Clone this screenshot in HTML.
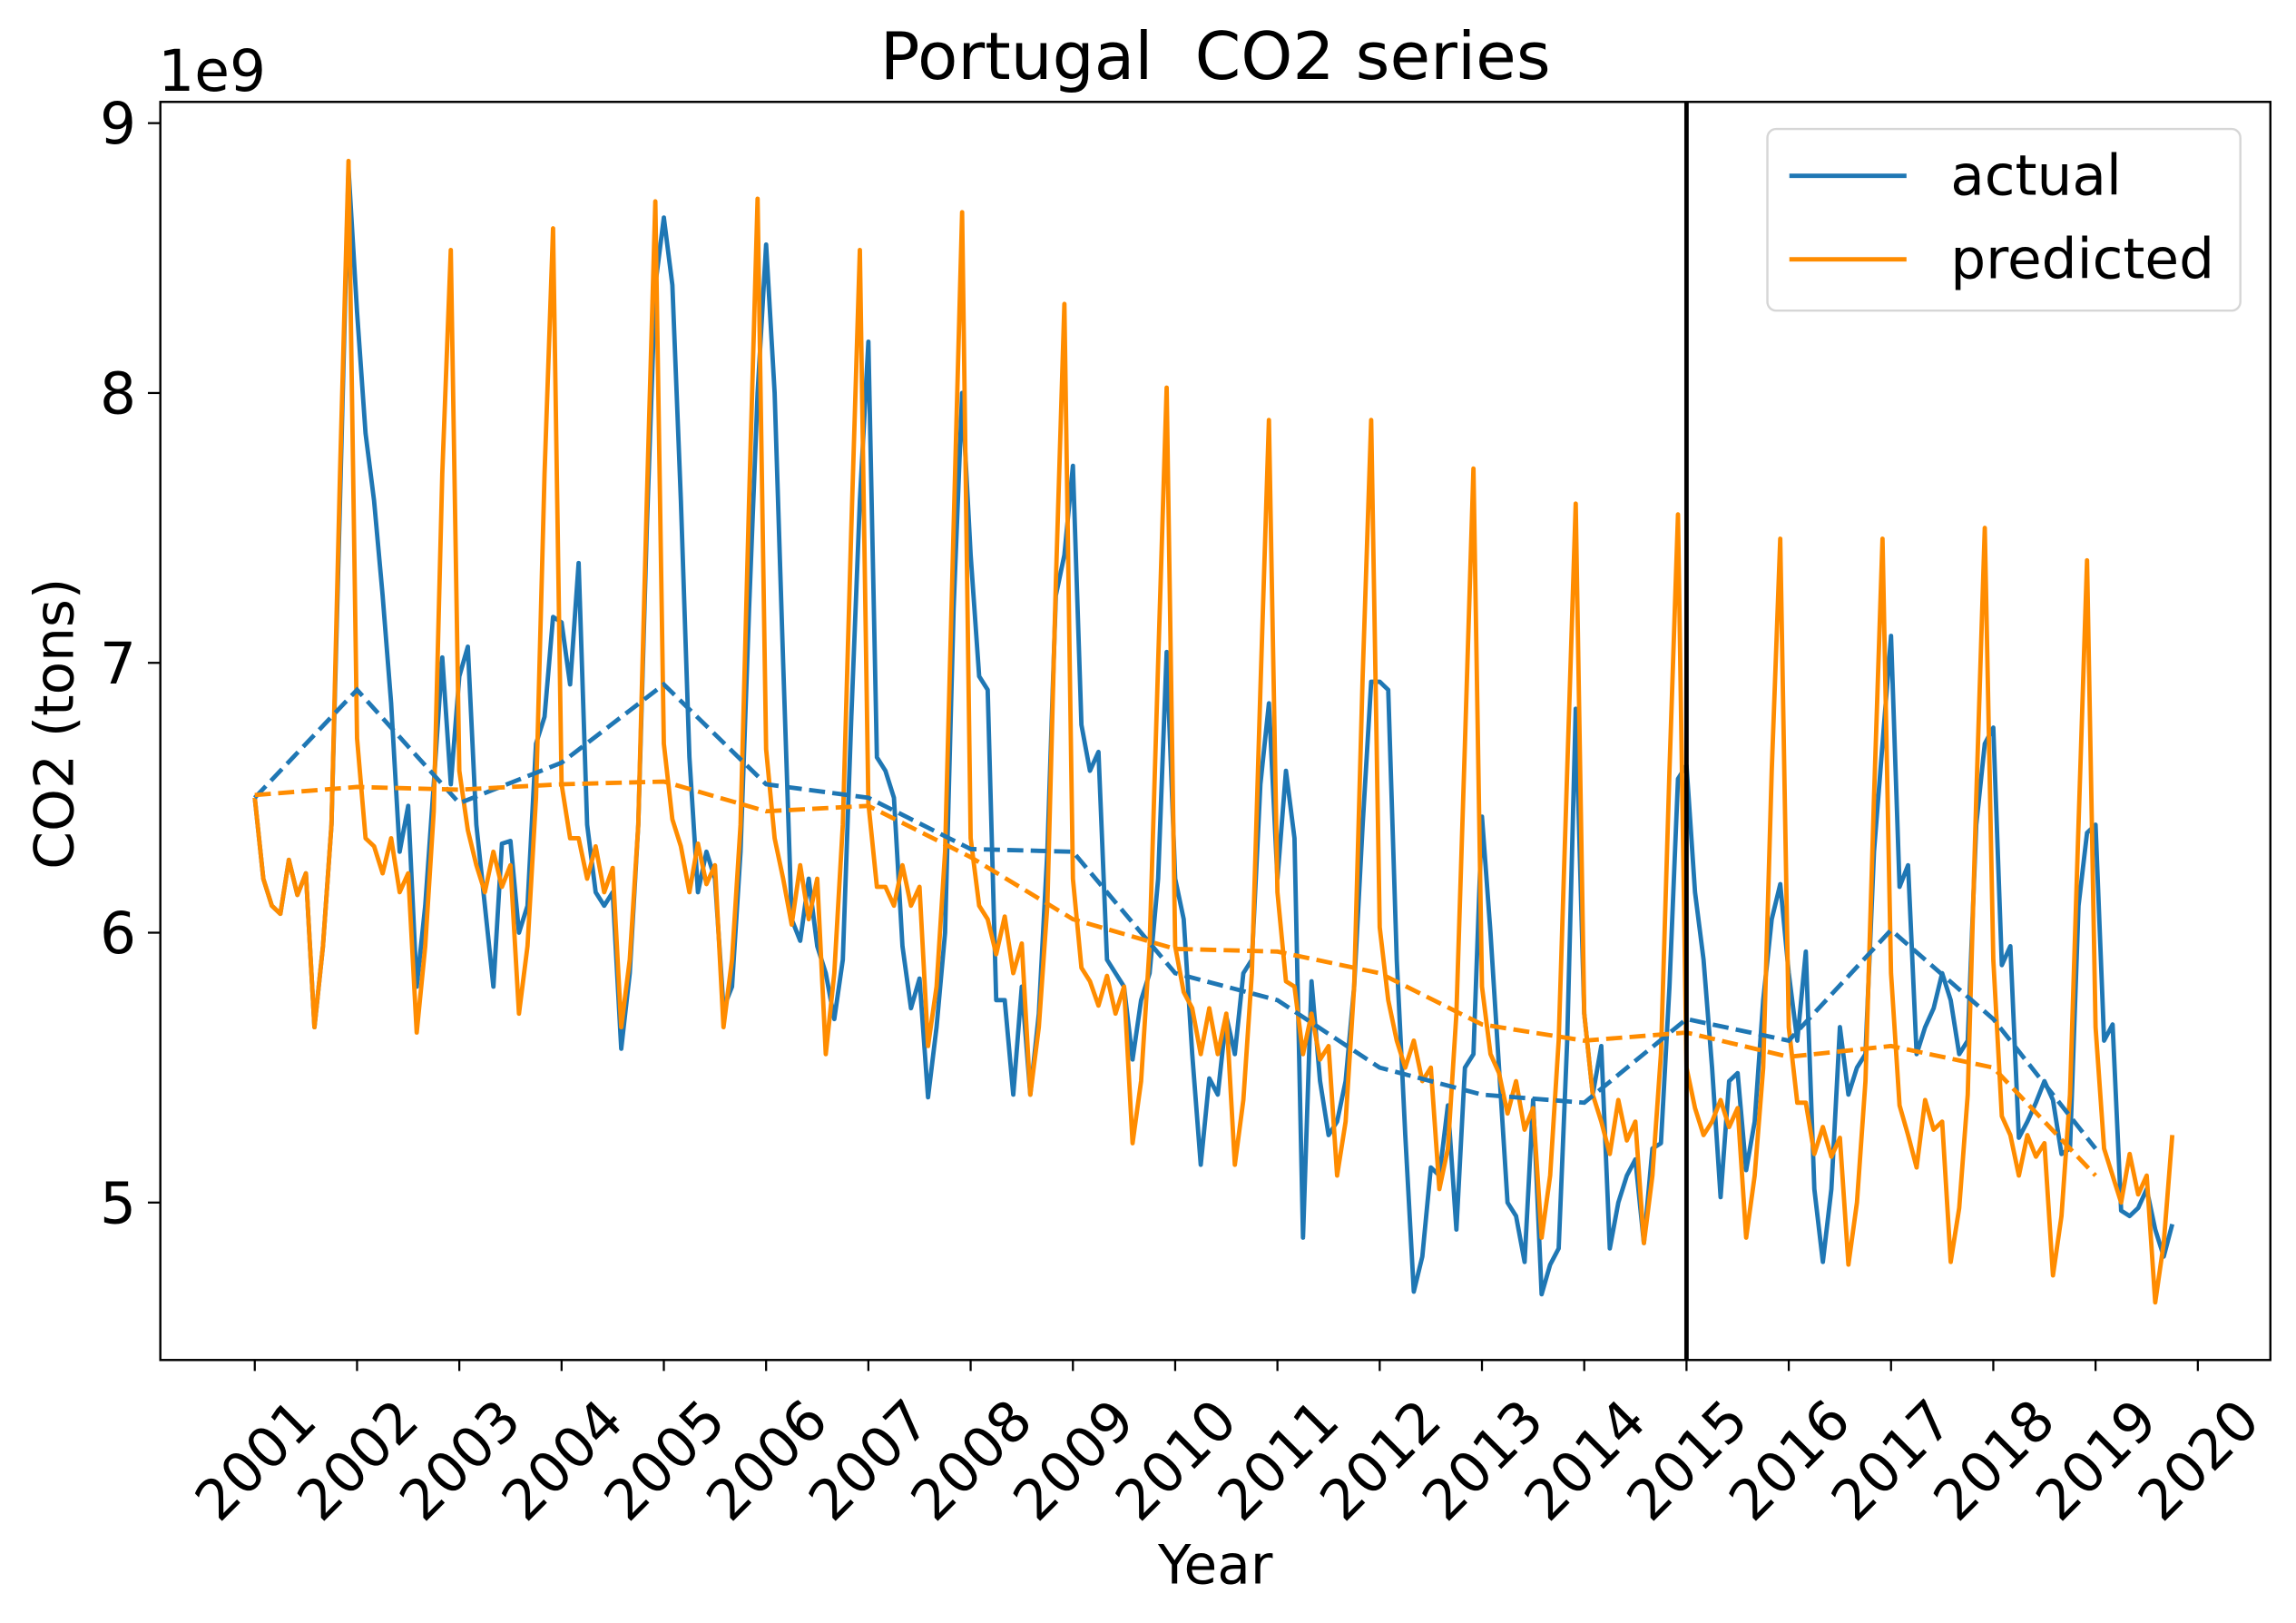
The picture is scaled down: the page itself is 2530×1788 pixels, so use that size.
<!DOCTYPE html>
<html><head><meta charset="utf-8"><style>
html,body{margin:0;padding:0;background:#fff;}
svg{display:block;font-family:"DejaVu Sans","Liberation Sans",sans-serif;}
</style></head><body>
<svg id="chart" width="2530" height="1788" viewBox="0 0 1568 1108" xmlns="http://www.w3.org/2000/svg">
<rect width="1568" height="1108" fill="#fff"/>
<text x="830" y="54" font-size="45" text-anchor="middle" style="white-space:pre">Portugal&#160; CO2 series</text>
<text x="108" y="62" font-size="39">1e9</text>
<text x="830" y="1081" font-size="37" text-anchor="middle">Year</text>
<text x="0" y="0" font-size="37" text-anchor="middle" transform="translate(50,494) rotate(-90)">CO2 (tons)</text>
<g id="marks"></g>
<g id="axes"></g>
<rect x="109.5" y="69.5" width="1441" height="859" fill="none" stroke="#000" stroke-width="1.5"/>
<g>
<rect x="1207" y="88" width="323" height="124" rx="6" fill="#fff" fill-opacity="0.8" stroke="#d6d6d6" stroke-width="1.5"/>
<line x1="1222" y1="120" x2="1302" y2="120" stroke="#1f77b4" stroke-width="3"/>
<text x="1332" y="133" font-size="38">actual</text>
<line x1="1222" y1="177" x2="1302" y2="177" stroke="#ff8c00" stroke-width="3"/>
<text x="1332" y="190" font-size="38">predicted</text>
</g>
</svg>
<script>
const years = [2001,2002,2003,2004,2005,2006,2007,2008,2009,2010,2011,2012,2013,2014,2015,2016,2017,2018,2019,2020];
const yTicks = [5,6,7,8,9];
const splitYear = 2015;
const actual = [
6.5,6.2,6.1,6.07,6.27,6.14,6.22,5.65,5.95,6.4,7.6,8.83,
8.3,7.85,7.6,7.25,6.85,6.3,6.47,5.8,6.1,6.55,7.02,6.55,
6.95,7.06,6.4,6.1,5.8,6.33,6.34,6.0,6.1,6.7,6.8,7.17,
7.15,6.92,7.37,6.4,6.15,6.1,6.15,5.57,5.85,6.4,7.5,8.4,
8.65,8.4,7.6,6.65,6.15,6.3,6.2,5.72,5.8,6.3,7.2,8.0,
8.55,8.0,7.0,6.05,5.97,6.2,5.95,5.85,5.68,5.9,6.8,7.6,
8.19,6.65,6.6,6.5,5.95,5.72,5.83,5.39,5.65,6.0,7.2,8.0,
7.4,6.95,6.9,5.75,5.75,5.4,5.8,5.4,5.7,6.3,7.25,7.4,
7.73,6.77,6.6,6.67,5.9,5.85,5.8,5.53,5.75,5.85,6.2,7.04,
6.2,6.05,5.55,5.14,5.46,5.4,5.69,5.55,5.85,5.9,6.55,6.85,
6.2,6.6,6.35,4.87,5.82,5.45,5.25,5.3,5.45,5.8,6.4,6.93,
6.93,6.9,5.9,5.25,4.67,4.8,5.13,5.1,5.36,4.9,5.5,5.55,
6.43,6.0,5.5,5.0,4.95,4.78,5.38,4.66,4.77,4.83,5.6,6.83,
5.7,5.4,5.58,4.83,5.0,5.1,5.16,4.85,5.2,5.22,5.8,6.57,
6.62,6.15,5.9,5.5,5.02,5.45,5.48,5.12,5.3,5.75,6.05,6.18,
5.85,5.6,5.93,5.05,4.78,5.05,5.65,5.4,5.5,5.55,6.3,6.7,
7.1,6.17,6.25,5.55,5.65,5.72,5.85,5.75,5.55,5.6,6.4,6.7,
6.76,5.88,5.95,5.24,5.3,5.37,5.45,5.38,5.18,5.2,6.1,6.37,
6.4,5.6,5.66,4.97,4.95,4.98,5.05,4.9,4.8,4.92];
const predicted = [
6.5,6.2,6.1,6.07,6.27,6.14,6.22,5.65,5.95,6.4,7.7,8.86,
6.72,6.35,6.32,6.22,6.35,6.15,6.22,5.63,5.95,6.45,7.7,8.53,
6.6,6.38,6.25,6.15,6.3,6.17,6.25,5.7,5.95,6.5,7.7,8.61,
6.55,6.35,6.35,6.2,6.32,6.15,6.24,5.65,5.9,6.4,7.6,8.71,
6.7,6.42,6.32,6.15,6.33,6.18,6.25,5.65,5.9,6.4,7.6,8.72,
6.68,6.35,6.2,6.03,6.25,6.05,6.2,5.55,5.85,6.4,7.5,8.53,
6.48,6.17,6.17,6.1,6.25,6.1,6.17,5.58,5.8,6.3,7.5,8.67,
6.35,6.1,6.05,5.92,6.06,5.85,5.96,5.4,5.65,6.1,7.3,8.33,
6.2,5.87,5.82,5.73,5.84,5.7,5.8,5.22,5.45,5.95,7.0,8.02,
5.95,5.78,5.72,5.55,5.72,5.55,5.7,5.14,5.38,5.85,6.9,7.9,
6.15,5.82,5.8,5.55,5.7,5.53,5.58,5.1,5.3,5.8,6.95,7.9,
6.02,5.75,5.6,5.5,5.6,5.45,5.5,5.05,5.2,5.7,6.7,7.72,
5.8,5.55,5.48,5.33,5.45,5.27,5.35,4.87,5.1,5.6,6.6,7.59,
5.7,5.4,5.3,5.18,5.38,5.23,5.3,4.85,5.1,5.55,6.6,7.55,
5.5,5.35,5.25,5.3,5.38,5.28,5.35,4.87,5.1,5.5,6.6,7.46,
5.65,5.37,5.37,5.18,5.28,5.17,5.24,4.77,5.0,5.45,6.5,7.46,
5.85,5.36,5.25,5.13,5.38,5.27,5.3,4.78,4.98,5.4,6.5,7.5,
5.9,5.32,5.25,5.1,5.25,5.17,5.22,4.73,4.95,5.4,6.4,7.38,
5.65,5.2,5.1,5.0,5.18,5.03,5.1,4.63,4.85,5.25];
const actualTrend = [6.5,6.9,6.48,6.63,6.92,6.55,6.5,6.31,6.3,5.85,5.75,5.5,5.4,5.37,5.68,5.6,6.01,5.68,5.2];
const predictedTrend = [6.51,6.54,6.53,6.55,6.56,6.45,6.47,6.28,6.05,5.94,5.93,5.85,5.66,5.6,5.63,5.54,5.58,5.5,5.1];

const NS = 'http://www.w3.org/2000/svg';
const xScale = t => 174 + (t - 2001) * 69.84;
const yScale = v => 821 - (v - 5) * 184.25;
const marks = document.getElementById('marks');
const axes = document.getElementById('axes');

function mk(tag, attrs, parent) {
  const e = document.createElementNS(NS, tag);
  for (const k in attrs) e.setAttribute(k, attrs[k]);
  parent.appendChild(e);
  return e;
}
function monthlyPath(arr) {
  return arr.map((v, i) => (i ? 'L' : 'M') + xScale(2001 + i / 12).toFixed(2) + ',' + yScale(v).toFixed(2)).join('');
}
function yearlyPath(arr) {
  return arr.map((v, i) => (i ? 'L' : 'M') + xScale(2001 + i).toFixed(2) + ',' + yScale(v).toFixed(2)).join('');
}

const pa = mk('path', {d: monthlyPath(actual), fill: 'none', stroke: '#1f77b4', 'stroke-width': 3, 'stroke-linejoin': 'round'}, marks);


const pp = mk('path', {d: monthlyPath(predicted), fill: 'none', stroke: '#ff8c00', 'stroke-width': 3, 'stroke-linejoin': 'round'}, marks);


const ta = mk('path', {d: yearlyPath(actualTrend), fill: 'none', stroke: '#1f77b4', 'stroke-width': 3, 'stroke-dasharray': '11,5'}, marks);


const tp = mk('path', {d: yearlyPath(predictedTrend), fill: 'none', stroke: '#ff8c00', 'stroke-width': 3, 'stroke-dasharray': '11,5'}, marks);


const sl = mk('line', {x1: xScale(splitYear), x2: xScale(splitYear), y1: 70, y2: 928, stroke: '#000', 'stroke-width': 3}, marks);



years.forEach(yr => {
  const x = xScale(yr);
  const t = mk('line', {x1: x, x2: x, y1: 928, y2: 936, stroke: '#000', 'stroke-width': 1.4}, axes);
  
  
  const l = mk('text', {x: 0, y: 0, 'font-size': 38, 'text-anchor': 'end', transform: `translate(${x + 44},${972}) rotate(-45)`}, axes);
  l.textContent = yr;
  
  
});
yTicks.forEach(v => {
  const y = yScale(v);
  const t = mk('line', {x1: 101, x2: 109, y1: y, y2: y, stroke: '#000', 'stroke-width': 1.4}, axes);
  
  
  const l = mk('text', {x: 93, y: y + 14, 'font-size': 39, 'text-anchor': 'end'}, axes);
  l.textContent = v;
  
  
});
</script>
</body></html>
